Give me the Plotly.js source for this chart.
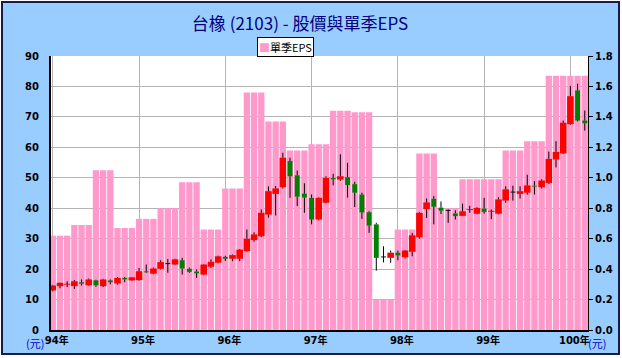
<!DOCTYPE html>
<html><head><meta charset="utf-8">
<script src="https://cdn.plot.ly/plotly-3.0.1.min.js"></script>
<style>
html,body{margin:0;padding:0;background:#fff;}
#frame{position:absolute;left:1px;top:1px;width:615px;height:350px;border:2px solid #1b1b4b;background:#99ccff;}
#chart{position:absolute;left:0;top:0;width:622px;height:358px;}
</style></head><body>
<div id="frame"></div><div id="chart"></div>
<script>
// Monthly categories (ROC year/month), 94/01 .. 100/03
const months = [
 '94/01','94/02','94/03','94/04','94/05','94/06','94/07','94/08','94/09','94/10','94/11','94/12',
 '95/01','95/02','95/03','95/04','95/05','95/06','95/07','95/08','95/09','95/10','95/11','95/12',
 '96/01','96/02','96/03','96/04','96/05','96/06','96/07','96/08','96/09','96/10','96/11','96/12',
 '97/01','97/02','97/03','97/04','97/05','97/06','97/07','97/08','97/09','97/10','97/11','97/12',
 '98/01','98/02','98/03','98/04','98/05','98/06','98/07','98/08','98/09','98/10','98/11','98/12',
 '99/01','99/02','99/03','99/04','99/05','99/06','99/07','99/08','99/09','99/10','99/11','99/12',
 '100/01','100/02','100/03'];

// Quarterly EPS shown on each month of its quarter
const eps = [
 0.62,0.62,0.62, 0.69,0.69,0.69, 1.05,1.05,1.05, 0.67,0.67,0.67,
 0.73,0.73,0.73, 0.80,0.80,0.80, 0.97,0.97,0.97, 0.66,0.66,0.66,
 0.93,0.93,0.93, 1.56,1.56,1.56, 1.37,1.37,1.37, 1.18,1.18,1.18,
 1.22,1.22,1.22, 1.44,1.44,1.44, 1.43,1.43,1.43, 0.20,0.20,0.20,
 0.66,0.66,0.66, 1.16,1.16,1.16, 0.80,0.80,0.80, 0.99,0.99,0.99,
 0.99,0.99,0.99, 1.18,1.18,1.18, 1.24,1.24,1.24, 1.67,1.67,1.67,
 1.67,1.67,1.67];

const openP = [
 13.0,14.4,15.0,14.4,15.7,14.7,16.3,14.4,16.3,15.3,17.1,16.3,
 16.4,19.2,18.5,20.1,21.8,21.5,22.9,20.1,19.2,18.2,20.8,22.1,
 24.0,23.4,23.4,25.9,29.5,30.8,37.9,44.7,46.9,55.5,50.8,44.8,
 43.4,36.3,41.8,50.0,49.4,50.2,47.9,44.5,38.7,34.7,24.0,23.7,
 25.4,23.9,25.7,30.5,39.7,43.1,40.2,39.3,38.3,37.5,39.5,38.2,
 39.9,38.9,38.2,42.5,45.3,44.7,45.1,47.4,46.9,48.3,56.0,58.0,
 67.6,78.7,68.8];
const highP = [
 14.8,15.6,16.0,16.4,16.6,16.9,16.5,16.8,16.6,17.4,17.4,17.4,
 20.4,21.5,20.5,22.9,23.3,23.4,23.7,20.5,19.9,21.7,23.2,24.4,
 24.4,24.8,26.6,33.0,32.1,39.6,47.2,47.3,58.2,56.6,52.4,48.2,
 44.5,43.6,50.5,51.3,57.7,54.9,48.7,45.1,39.0,35.2,27.5,26.1,
 26.1,26.3,31.9,38.7,43.2,44.0,42.2,39.6,39.3,41.5,40.8,40.3,
 43.4,39.6,43.6,47.2,47.4,47.2,51.0,48.9,49.5,58.6,62.0,68.8,
 80.2,80.9,72.1];
const lowP = [
 12.7,13.7,14.1,13.5,14.6,14.5,14.2,14.1,15.0,14.9,15.7,16.1,
 16.2,18.8,18.3,19.9,18.8,21.3,18.2,18.8,17.1,18.0,20.4,21.9,
 22.7,22.6,22.6,25.7,29.0,30.5,36.9,37.6,46.5,43.4,40.7,38.5,
 34.7,36.0,41.6,47.5,49.0,43.5,40.4,36.5,31.9,19.5,22.2,22.1,
 22.9,23.5,24.2,30.0,36.8,34.7,38.1,35.2,36.3,37.4,38.5,38.0,
 38.2,36.4,38.0,41.8,42.5,43.2,44.5,44.5,46.5,48.0,53.4,57.8,
 67.4,68.5,65.5];
const closeP = [
 14.6,15.5,15.1,16.0,15.2,16.6,14.7,16.6,15.7,17.1,16.6,17.3,
 19.3,19.0,20.2,22.3,21.8,23.2,20.2,19.1,18.6,21.5,22.4,24.2,
 23.4,24.6,26.4,30.0,31.4,38.5,45.6,46.5,56.6,50.5,43.8,43.5,
 36.3,43.4,50.0,49.5,50.5,47.6,45.1,38.6,34.3,23.7,24.0,25.4,
 24.5,26.1,31.1,38.5,41.9,40.5,39.2,39.3,37.4,39.0,39.6,40.1,
 38.8,39.1,42.9,46.2,45.3,45.6,47.5,47.1,49.1,56.2,58.5,68.1,
 76.8,68.8,67.9];

const yearTicks = ['94/01','95/01','96/01','97/01','98/01','99/01','100/01'];
const yearLabels = ['94年','95年','96年','97年','98年','99年','100年'];

// build candle body / wick tables from the OHLC arrays
const bodyBase = [], bodyLen = [], bodyColor = [], bodyWidth = [];
const wx = [], wy = [];
months.forEach((m, i) => {
  const o = openP[i], c = closeP[i];
  const top = Math.max(o, c), bot = Math.min(o, c);
  if (c > o) { bodyColor.push('#ff0000'); bodyWidth.push(0.92); }
  else if (c < o) { bodyColor.push('#008000'); bodyWidth.push(0.68); }
  else { bodyColor.push('#000000'); bodyWidth.push(0.68); }
  const len = Math.max(top - bot, 0.3);
  bodyBase.push(top - bot < 0.3 ? (top + bot) / 2 - 0.15 : bot);
  bodyLen.push(len);
  wx.push(m, m, null, m, m, null);
  wy.push(highP[i], top, null, bot, lowP[i], null);
});

const tickFont = {family: 'DejaVu Sans, Noto Sans CJK TC', size: 10, weight: 'bold', color: '#000'};

const traces = [
  {type: 'bar', x: months, y: eps, yaxis: 'y', width: 0.88,
   marker: {color: '#ff99cc', line: {width: 0}}, hoverinfo: 'skip', name: '單季EPS'},
  {type: 'bar', x: months, y: bodyLen, base: bodyBase, yaxis: 'y2', width: bodyWidth,
   marker: {color: bodyColor, line: {width: 0}}, hoverinfo: 'skip'},
  {type: 'scatter', mode: 'lines', x: wx, y: wy, yaxis: 'y2', connectgaps: false,
   line: {color: '#000', width: 1}, hoverinfo: 'skip'}
];

const layout = {
  width: 622, height: 358,
  margin: {l: 51, r: 34, t: 56, b: 28},
  paper_bgcolor: 'rgba(0,0,0,0)', plot_bgcolor: '#ffffff',
  showlegend: false, barmode: 'overlay',
  title: {text: '台橡 (2103) - 股價與單季EPS',
    font: {family: 'Noto Sans CJK TC', size: 17, color: '#000080'},
    x: 300 / 622, xanchor: 'center', xref: 'container',
    y: 1 - 24 / 358, yanchor: 'middle', yref: 'container'},
  xaxis: {type: 'category', range: [-0.25, 74.45], tickmode: 'array',
    tickvals: yearTicks, ticktext: yearLabels,
    showgrid: true, gridcolor: '#b4b4b4', gridwidth: 1,
    showline: true, linecolor: '#000', linewidth: 2, ticks: '',
    tickfont: tickFont, ticklabelshift: 4, zeroline: false, fixedrange: true},
  yaxis: {range: [0, 1.8], dtick: 0.2, tickformat: '.1f', side: 'right',
    showgrid: true, gridcolor: '#b4b4b4', gridwidth: 1,
    showline: true, linecolor: '#000', linewidth: 1,
    ticks: 'outside', ticklen: 4, tickcolor: '#000', tickwidth: 1,
    tickfont: tickFont, zeroline: false, fixedrange: true},
  yaxis2: {range: [0, 90], dtick: 10, overlaying: 'y', side: 'left',
    showgrid: false, showline: true, linecolor: '#000', linewidth: 2,
    ticks: '', tickfont: tickFont, ticklabelstandoff: 8, zeroline: false, fixedrange: true},
  annotations: [
    {xref: 'paper', yref: 'paper', x: (285 - 51) / 537, y: 1 + 9 / 274, xanchor: 'center', yanchor: 'middle',
     text: '<span style="color:#ff99cc">■</span>單季EPS', showarrow: false,
     font: {family: 'Noto Sans CJK TC', size: 11, color: '#000'},
     bgcolor: '#ffffff', bordercolor: '#000', borderwidth: 1, borderpad: 1},
    {xref: 'paper', yref: 'paper', x: (35 - 51) / 537, y: -13 / 274, xanchor: 'center', yanchor: 'middle',
     text: '(元)', showarrow: false, font: {family: 'Noto Sans CJK TC', size: 11, color: '#0000cc'}},
    {xref: 'paper', yref: 'paper', x: (597 - 51) / 537, y: -13 / 274, xanchor: 'center', yanchor: 'middle',
     text: '(元)', showarrow: false, font: {family: 'Noto Sans CJK TC', size: 11, color: '#0000cc'}}
  ]
};

Plotly.newPlot('chart', traces, layout, {displayModeBar: false, staticPlot: true});
</script>
</body></html>
